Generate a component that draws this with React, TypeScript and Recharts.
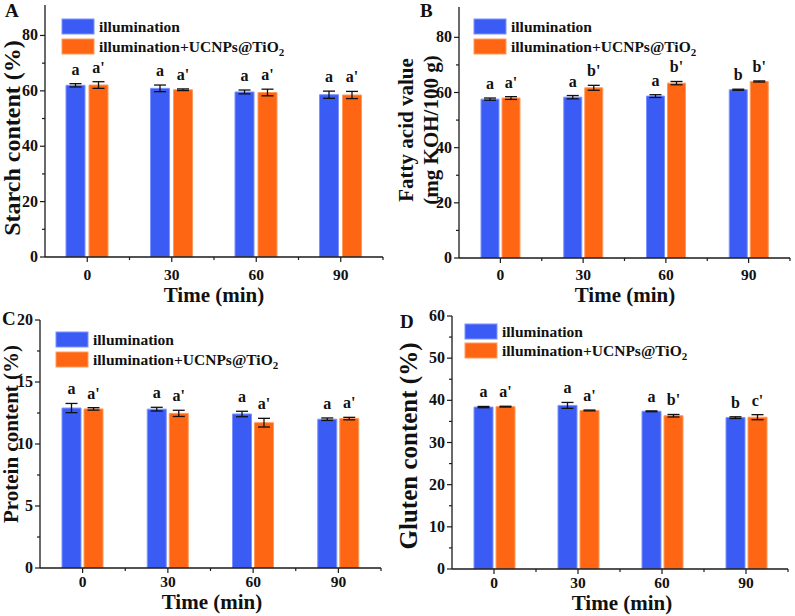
import React from 'react';
import { BarChart, Bar, XAxis, YAxis, ErrorBar, LabelList } from 'recharts';

const times = ['0', '30', '60', '90'];

const starchIllum = [62.0, 60.9, 59.6, 58.6];
const starchIllumErr = [0.6, 1.2, 0.7, 1.3];
const starchUcnp = [62.1, 60.4, 59.4, 58.5];
const starchUcnpErr = [1.2, 0.3, 1.2, 1.3];
const starchSigIllum = ['a', 'a', 'a', 'a'];
const starchSigUcnp = ["a'", "a'", "a'", "a'"];

const fattyIllum = [57.6, 58.3, 58.7, 61.0];
const fattyIllumErr = [0.4, 0.6, 0.5, 0.2];
const fattyUcnp = [58.0, 61.7, 63.4, 64.0];
const fattyUcnpErr = [0.5, 0.9, 0.6, 0.2];
const fattySigIllum = ['a', 'a', 'a', 'b'];
const fattySigUcnp = ["a'", "b'", "b'", "b'"];

const proteinIllum = [12.9, 12.81, 12.42, 12.0];
const proteinIllumErr = [0.37, 0.15, 0.22, 0.1];
const proteinUcnp = [12.83, 12.47, 11.72, 12.05];
const proteinUcnpErr = [0.1, 0.25, 0.35, 0.1];
const proteinSigIllum = ['a', 'a', 'a', 'a'];
const proteinSigUcnp = ["a'", "a'", "a'", "a'"];

const glutenIllum = [38.4, 38.8, 37.4, 35.9];
const glutenIllumErr = [0.15, 0.7, 0.1, 0.2];
const glutenUcnp = [38.5, 37.6, 36.35, 36.0];
const glutenUcnpErr = [0.1, 0.1, 0.3, 0.6];
const glutenSigIllum = ['a', 'a', 'a', 'b'];
const glutenSigUcnp = ["a'", "a'", "b'", "c'"];

const starchTicks = [0, 10, 20, 30, 40, 50, 60, 70, 80];
const starchMajor = [0, 20, 40, 60, 80];
const fattyTicks = [0, 10, 20, 30, 40, 50, 60, 70, 80];
const fattyMajor = [0, 20, 40, 60, 80];
const proteinTicks = [0, 2.5, 5, 7.5, 10, 12.5, 15, 17.5, 20];
const proteinMajor = [0, 5, 10, 15, 20];
const glutenTicks = [0, 5, 10, 15, 20, 25, 30, 35, 40, 45, 50, 55, 60];
const glutenMajor = [0, 10, 20, 30, 40, 50, 60];

const seriesNames = ['illumination', 'illumination+UCNPs@TiO'];

const FONT = "'Liberation Serif','Times New Roman',Times,serif";
const BLUE = '#3a5cf5';
const BLUE_EDGE = '#7d92ff';
const ORANGE = '#ff6614';
const ORANGE_EDGE = '#ff9a5c';
const AXIS = '#1a1a1a';

type Cfg = {
  box: { left: number; top: number; w: number; h: number };
  plot: { l: number; t: number; r: number; b: number };
  domainMax: number;
  ticks: number[];
  major: number[];
  illum: number[];
  illumErr: number[];
  ucnp: number[];
  ucnpErr: number[];
  sigIllum: string[];
  sigUcnp: string[];
  xLabelGap: number;
  barSize: number;
  barGap: number;
};

const panels: Cfg[] = [
  {
    box: { left: 0, top: 0, w: 395, h: 308 },
    plot: { l: 45, t: 5, r: 383, b: 257 },
    domainMax: 91, ticks: starchTicks, major: starchMajor,
    illum: starchIllum, illumErr: starchIllumErr, ucnp: starchUcnp, ucnpErr: starchUcnpErr,
    sigIllum: starchSigIllum, sigUcnp: starchSigUcnp, xLabelGap: 23, barSize: 19, barGap: 4,
  },
  {
    box: { left: 395, top: 0, w: 400, h: 308 },
    plot: { l: 459, t: 7, r: 790, b: 258 },
    domainMax: 91, ticks: fattyTicks, major: fattyMajor,
    illum: fattyIllum, illumErr: fattyIllumErr, ucnp: fattyUcnp, ucnpErr: fattyUcnpErr,
    sigIllum: fattySigIllum, sigUcnp: fattySigUcnp, xLabelGap: 22, barSize: 18, barGap: 3,
  },
  {
    box: { left: 0, top: 308, w: 395, h: 308 },
    plot: { l: 40, t: 320, r: 381, b: 568 },
    domainMax: 20, ticks: proteinTicks, major: proteinMajor,
    illum: proteinIllum, illumErr: proteinIllumErr, ucnp: proteinUcnp, ucnpErr: proteinUcnpErr,
    sigIllum: proteinSigIllum, sigUcnp: proteinSigUcnp, xLabelGap: 19, barSize: 19, barGap: 3,
  },
  {
    box: { left: 395, top: 308, w: 400, h: 308 },
    plot: { l: 452, t: 316, r: 788, b: 569 },
    domainMax: 60, ticks: glutenTicks, major: glutenMajor,
    illum: glutenIllum, illumErr: glutenIllumErr, ucnp: glutenUcnp, ucnpErr: glutenUcnpErr,
    sigIllum: glutenSigIllum, sigUcnp: glutenSigUcnp, xLabelGap: 19, barSize: 19, barGap: 3,
  },
];

function Panel({ cfg }: { cfg: Cfg }) {
  const { box, plot } = cfg;
  const data = times.map((t, i) => ({
    time: t,
    illum: cfg.illum[i],
    illumErr: cfg.illumErr[i],
    ucnp: cfg.ucnp[i],
    ucnpErr: cfg.ucnpErr[i],
    sigI: cfg.sigIllum[i],
    sigU: cfg.sigUcnp[i],
  }));
  const plotH = plot.b - plot.t;
  const yWidth = plot.l - box.left;
  const xHeight = box.top + box.h - plot.b;
  const band = (plot.r - plot.l) / times.length;
  const margin = {
    top: plot.t - box.top,
    right: box.left + box.w - plot.r,
    bottom: 0,
    left: 0,
  };
  const axisLine = { stroke: AXIS, strokeWidth: 1.3 };

  const sig = (labels: string[], errs: number[]) => (props: any) => {
    const vb = props.viewBox || {};
    const x = Number(vb.x ?? props.x);
    const y = Number(vb.y ?? props.y);
    const w = Number(vb.width ?? props.width);
    const h = Number(vb.height ?? props.height);
    const top = h < 0 ? y + h : y;
    const idx = Math.max(0, Math.min(times.length - 1, Math.floor((x + w / 2 - yWidth) / band)));
    const errTop = top - (errs[idx] * plotH) / cfg.domainMax;
    return (
      <text x={x + w / 2} y={errTop - 9} textAnchor="middle" fontFamily={FONT} fontWeight="bold" fontSize={16} fill="#111">
        {labels[idx]}
      </text>
    );
  };

  const YTick = (props: any) => {
    const { x, y, payload } = props;
    const isMajor = cfg.major.includes(payload.value);
    return (
      <g>
        <line x1={x} x2={x - (isMajor ? 5 : 3)} y1={y} y2={y} stroke={AXIS} strokeWidth={1.2} />
        {isMajor && (
          <text x={x - 7} y={y} dy={5} textAnchor="end" fontFamily={FONT} fontWeight="bold" fontSize={16} fill="#111">
            {payload.value}
          </text>
        )}
      </g>
    );
  };

  const XTick = (props: any) => {
    const { x, y, payload } = props;
    return (
      <g>
        <line x1={x} x2={x} y1={y} y2={y + 5} stroke={AXIS} strokeWidth={1.2} />
        <line x1={x + band / 2} x2={x + band / 2} y1={y} y2={y + 3} stroke={AXIS} strokeWidth={1.2} />
        <text x={x} y={y + cfg.xLabelGap} textAnchor="middle" fontFamily={FONT} fontWeight="bold" fontSize={15.5} fill="#111">
          {payload.value}
        </text>
      </g>
    );
  };

  return (
    <div style={{ position: 'absolute', left: box.left, top: box.top, width: box.w, height: box.h }}>
      <BarChart width={box.w} height={box.h} data={data} margin={margin} barGap={cfg.barGap}>
        <XAxis dataKey="time" height={xHeight} tickSize={0} tickMargin={0} tickLine={false} axisLine={axisLine} tick={XTick} interval={0} />
        <XAxis xAxisId="top" orientation="top" dataKey="time" height={0} tick={false} tickLine={false} axisLine={axisLine} />
        <YAxis
          type="number"
          width={yWidth}
          domain={[0, cfg.domainMax]}
          ticks={cfg.ticks}
          interval={0}
          allowDataOverflow
          tickSize={0}
          tickMargin={0}
          tickLine={false}
          axisLine={axisLine}
          tick={YTick}
        />
        <YAxis yAxisId="right" orientation="right" type="number" width={0} domain={[0, cfg.domainMax]} tick={false} tickLine={false} axisLine={axisLine} />
        <Bar dataKey="illum" fill={BLUE} stroke={BLUE_EDGE} strokeWidth={1} barSize={cfg.barSize} isAnimationActive={false}>
          <ErrorBar dataKey="illumErr" width={6} strokeWidth={1.3} stroke="#111" direction="y" />
          <LabelList dataKey="sigI" content={sig(cfg.sigIllum, cfg.illumErr)} />
        </Bar>
        <Bar dataKey="ucnp" fill={ORANGE} stroke={ORANGE_EDGE} strokeWidth={1} barSize={cfg.barSize} isAnimationActive={false}>
          <ErrorBar dataKey="ucnpErr" width={6} strokeWidth={1.3} stroke="#111" direction="y" />
          <LabelList dataKey="sigU" content={sig(cfg.sigUcnp, cfg.ucnpErr)} />
        </Bar>
      </BarChart>
    </div>
  );
}

const legendPos = [
  { x: 62, y: 19, gap: 20 },
  { x: 474, y: 19, gap: 20 },
  { x: 56, y: 332, gap: 20 },
  { x: 465, y: 324, gap: 19 },
];

const letters = [
  { t: 'A', x: 5, y: 17 },
  { t: 'B', x: 420, y: 17 },
  { t: 'C', x: 2, y: 325 },
  { t: 'D', x: 400, y: 328 },
];

const xTitles = [
  { x: 214, y: 302 },
  { x: 625, y: 302 },
  { x: 212, y: 609 },
  { x: 622, y: 610 },
];

const yTitles = [
  { lines: ['Starch content (%)'], x: 12, y: 138, step: 0, size: 24 },
  { lines: ['Fatty acid value', '(mg KOH/100 g)'], x: 406, y: 130, step: 25, size: 21 },
  { lines: ['Protein content (%)'], x: 11, y: 434, step: 0, size: 21 },
  { lines: ['Gluten content (%)'], x: 408, y: 446, step: 0, size: 25 },
];

function Overlay() {
  const txt = { fontFamily: FONT, fontWeight: 'bold' as const, fill: '#111' };
  return (
    <svg width={795} height={616} style={{ position: 'absolute', left: 0, top: 0, pointerEvents: 'none' }}>
      {letters.map((l) => (
        <text key={l.t} x={l.x} y={l.y} fontSize={19} {...txt}>{l.t}</text>
      ))}
      {xTitles.map((p, i) => (
        <text key={i} x={p.x} y={p.y} fontSize={21} textAnchor="middle" {...txt}>Time (min)</text>
      ))}
      {yTitles.map((p, i) =>
        p.lines.map((ln, j) => (
          <text
            key={i + '-' + j}
            x={0}
            y={0}
            transform={`translate(${p.x + j * p.step},${p.y}) rotate(-90)`}
            textAnchor="middle"
            dominantBaseline="central"
            fontSize={p.size}
            {...txt}
          >
            {ln}
          </text>
        ))
      )}
      {legendPos.map((p, i) => (
        <g key={i}>
          <rect x={p.x} y={p.y} width={32} height={15} fill={BLUE} stroke={BLUE_EDGE} strokeWidth={1} />
          <rect x={p.x} y={p.y + p.gap} width={32} height={15} fill={ORANGE} stroke={ORANGE_EDGE} strokeWidth={1} />
          <text x={p.x + 37} y={p.y + 12.5} fontSize={15.5} {...txt}>{seriesNames[0]}</text>
          <text x={p.x + 37} y={p.y + p.gap + 12.5} fontSize={15.5} {...txt}>
            {seriesNames[1]}
            <tspan dy={4} fontSize={11}>2</tspan>
          </text>
        </g>
      ))}
    </svg>
  );
}

export default function App() {
  return (
    <div style={{ position: 'absolute', left: 0, top: 0, width: 795, height: 616, background: '#fff' }}>
      {panels.map((cfg, i) => (
        <Panel key={i} cfg={cfg} />
      ))}
      <Overlay />
    </div>
  );
}
